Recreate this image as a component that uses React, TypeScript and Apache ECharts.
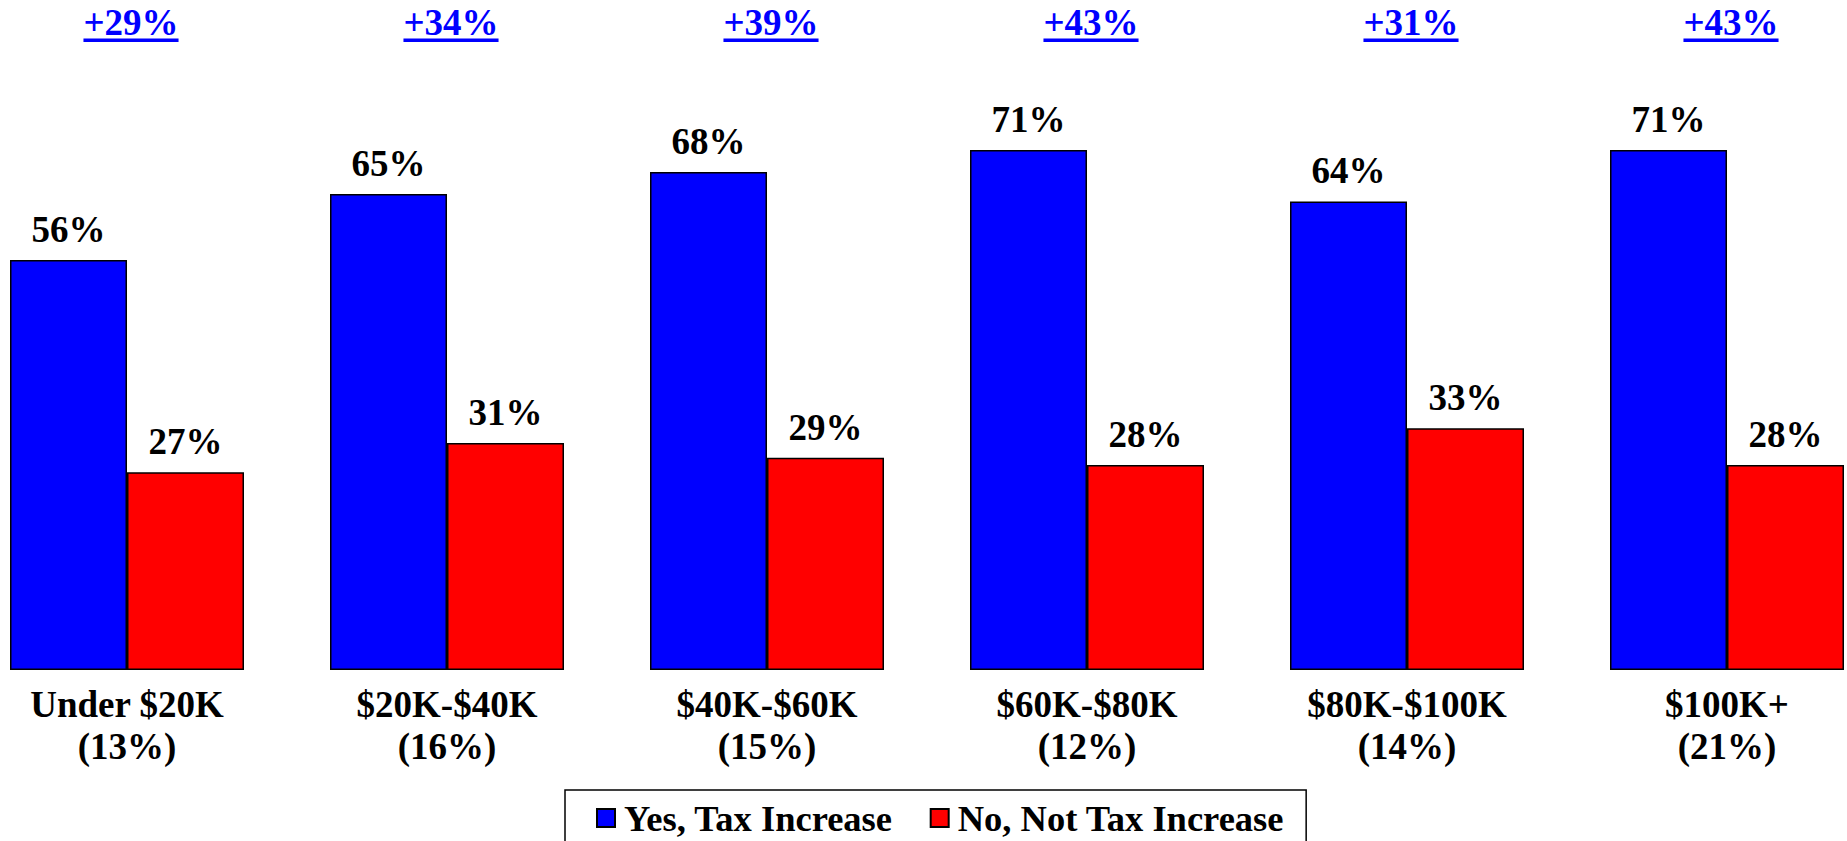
import React, { useEffect, useRef } from "react";
import * as echarts from "echarts";

const categories = [
  "Under $20K\n(13%)",
  "$20K-$40K\n(16%)",
  "$40K-$60K\n(15%)",
  "$60K-$80K\n(12%)",
  "$80K-$100K\n(14%)",
  "$100K+\n(21%)",
];
const yesValues = [56, 65, 68, 71, 64, 71];
const noValues = [27, 31, 29, 28, 33, 28];
const seriesNames = ["Yes, Tax Increase", "No, Not Tax Increase"];
const diffLabels = yesValues.map((y, i) => "+" + (y - noValues[i]) + "%");

const FONT = "Liberation Serif, Times New Roman, serif";
const OFFSET = 33;

function measure(text: string, size: number): number {
  const c = document.createElement("canvas").getContext("2d");
  if (!c) return text.length * size * 0.55;
  c.font = `bold ${size}px ${FONT}`;
  return c.measureText(text).width;
}

export default function App() {
  const ref = useRef<HTMLDivElement>(null);
  useEffect(() => {
    if (!ref.current) return;
    const chart = echarts.init(ref.current, undefined, { renderer: "svg" });
    const labelStyle = {
      show: true,
      position: "top" as const,
      distance: 12,
      formatter: "{c}%",
      color: "#000",
      fontSize: 37,
      fontWeight: "bold" as const,
      fontFamily: FONT,
    };
    chart.setOption({
      animation: false,
      backgroundColor: "#fff",
      grid: { left: 0, right: 0, top: 11, bottom: 171 },
      legend: {
        data: seriesNames,
        left: 565 + OFFSET,
        top: 790,
        orient: "horizontal",
        icon: "rect",
        itemWidth: 18,
        itemHeight: 18,
        itemGap: 37,
        padding: [8, 22, 40, 31],
        borderColor: "#000",
        borderWidth: 1.5,
        selectedMode: false,
        textStyle: {
          color: "#000",
          fontSize: 36.5,
          fontWeight: "bold",
          fontFamily: FONT,
          lineHeight: 40,
          padding: [0, 0, 0, 4],
        },
      },
      xAxis: {
        type: "category",
        data: categories,
        axisLine: { show: false },
        axisTick: { show: false },
        axisLabel: {
          interval: 0,
          margin: 13,
          color: "#000",
          fontSize: 37,
          fontWeight: "bold",
          fontFamily: FONT,
          lineHeight: 42,
        },
      },
      yAxis: {
        type: "value",
        min: 0,
        max: 90,
        show: false,
        splitLine: { show: false },
      },
      series: [
        {
          name: seriesNames[0],
          type: "bar",
          data: yesValues,
          barWidth: 117,
          barGap: "0%",
          itemStyle: { color: "#0000FF", borderColor: "#000", borderWidth: 1.5 },
          label: labelStyle,
        },
        {
          name: seriesNames[1],
          type: "bar",
          data: noValues,
          barWidth: 117,
          barGap: "0%",
          itemStyle: { color: "#FF0000", borderColor: "#000", borderWidth: 1.5 },
          label: labelStyle,
        },
        {
          type: "custom",
          name: "diff",
          silent: true,
          data: diffLabels.map((t, i) => [i, 0]),
          renderItem: (params: any, api: any) => {
            const idx = api.value(0);
            const x = api.coord([idx, 0])[0] + 4;
            const text = diffLabels[params.dataIndex];
            const w = measure(text, 37);
            return {
              type: "group",
              children: [
                {
                  type: "text",
                  x: x,
                  y: 22.5,
                  style: {
                    text: text,
                    fill: "#0000FF",
                    font: `bold 37px ${FONT}`,
                    align: "center",
                    verticalAlign: "middle",
                  },
                },
                {
                  type: "rect",
                  shape: { x: x - w / 2, y: 38.5, width: w, height: 3.5 },
                  style: { fill: "#0000FF" },
                },
              ],
            };
          },
        },
      ],
    });
    return () => chart.dispose();
  }, []);
  return (
    <div
      style={{
        position: "fixed",
        left: 0,
        top: 0,
        width: 1847,
        height: 841,
        overflow: "hidden",
        background: "#fff",
      }}
    >
      <div
        ref={ref}
        style={{ position: "absolute", left: -OFFSET, top: 0, width: 1920, height: 841 }}
      />
    </div>
  );
}
